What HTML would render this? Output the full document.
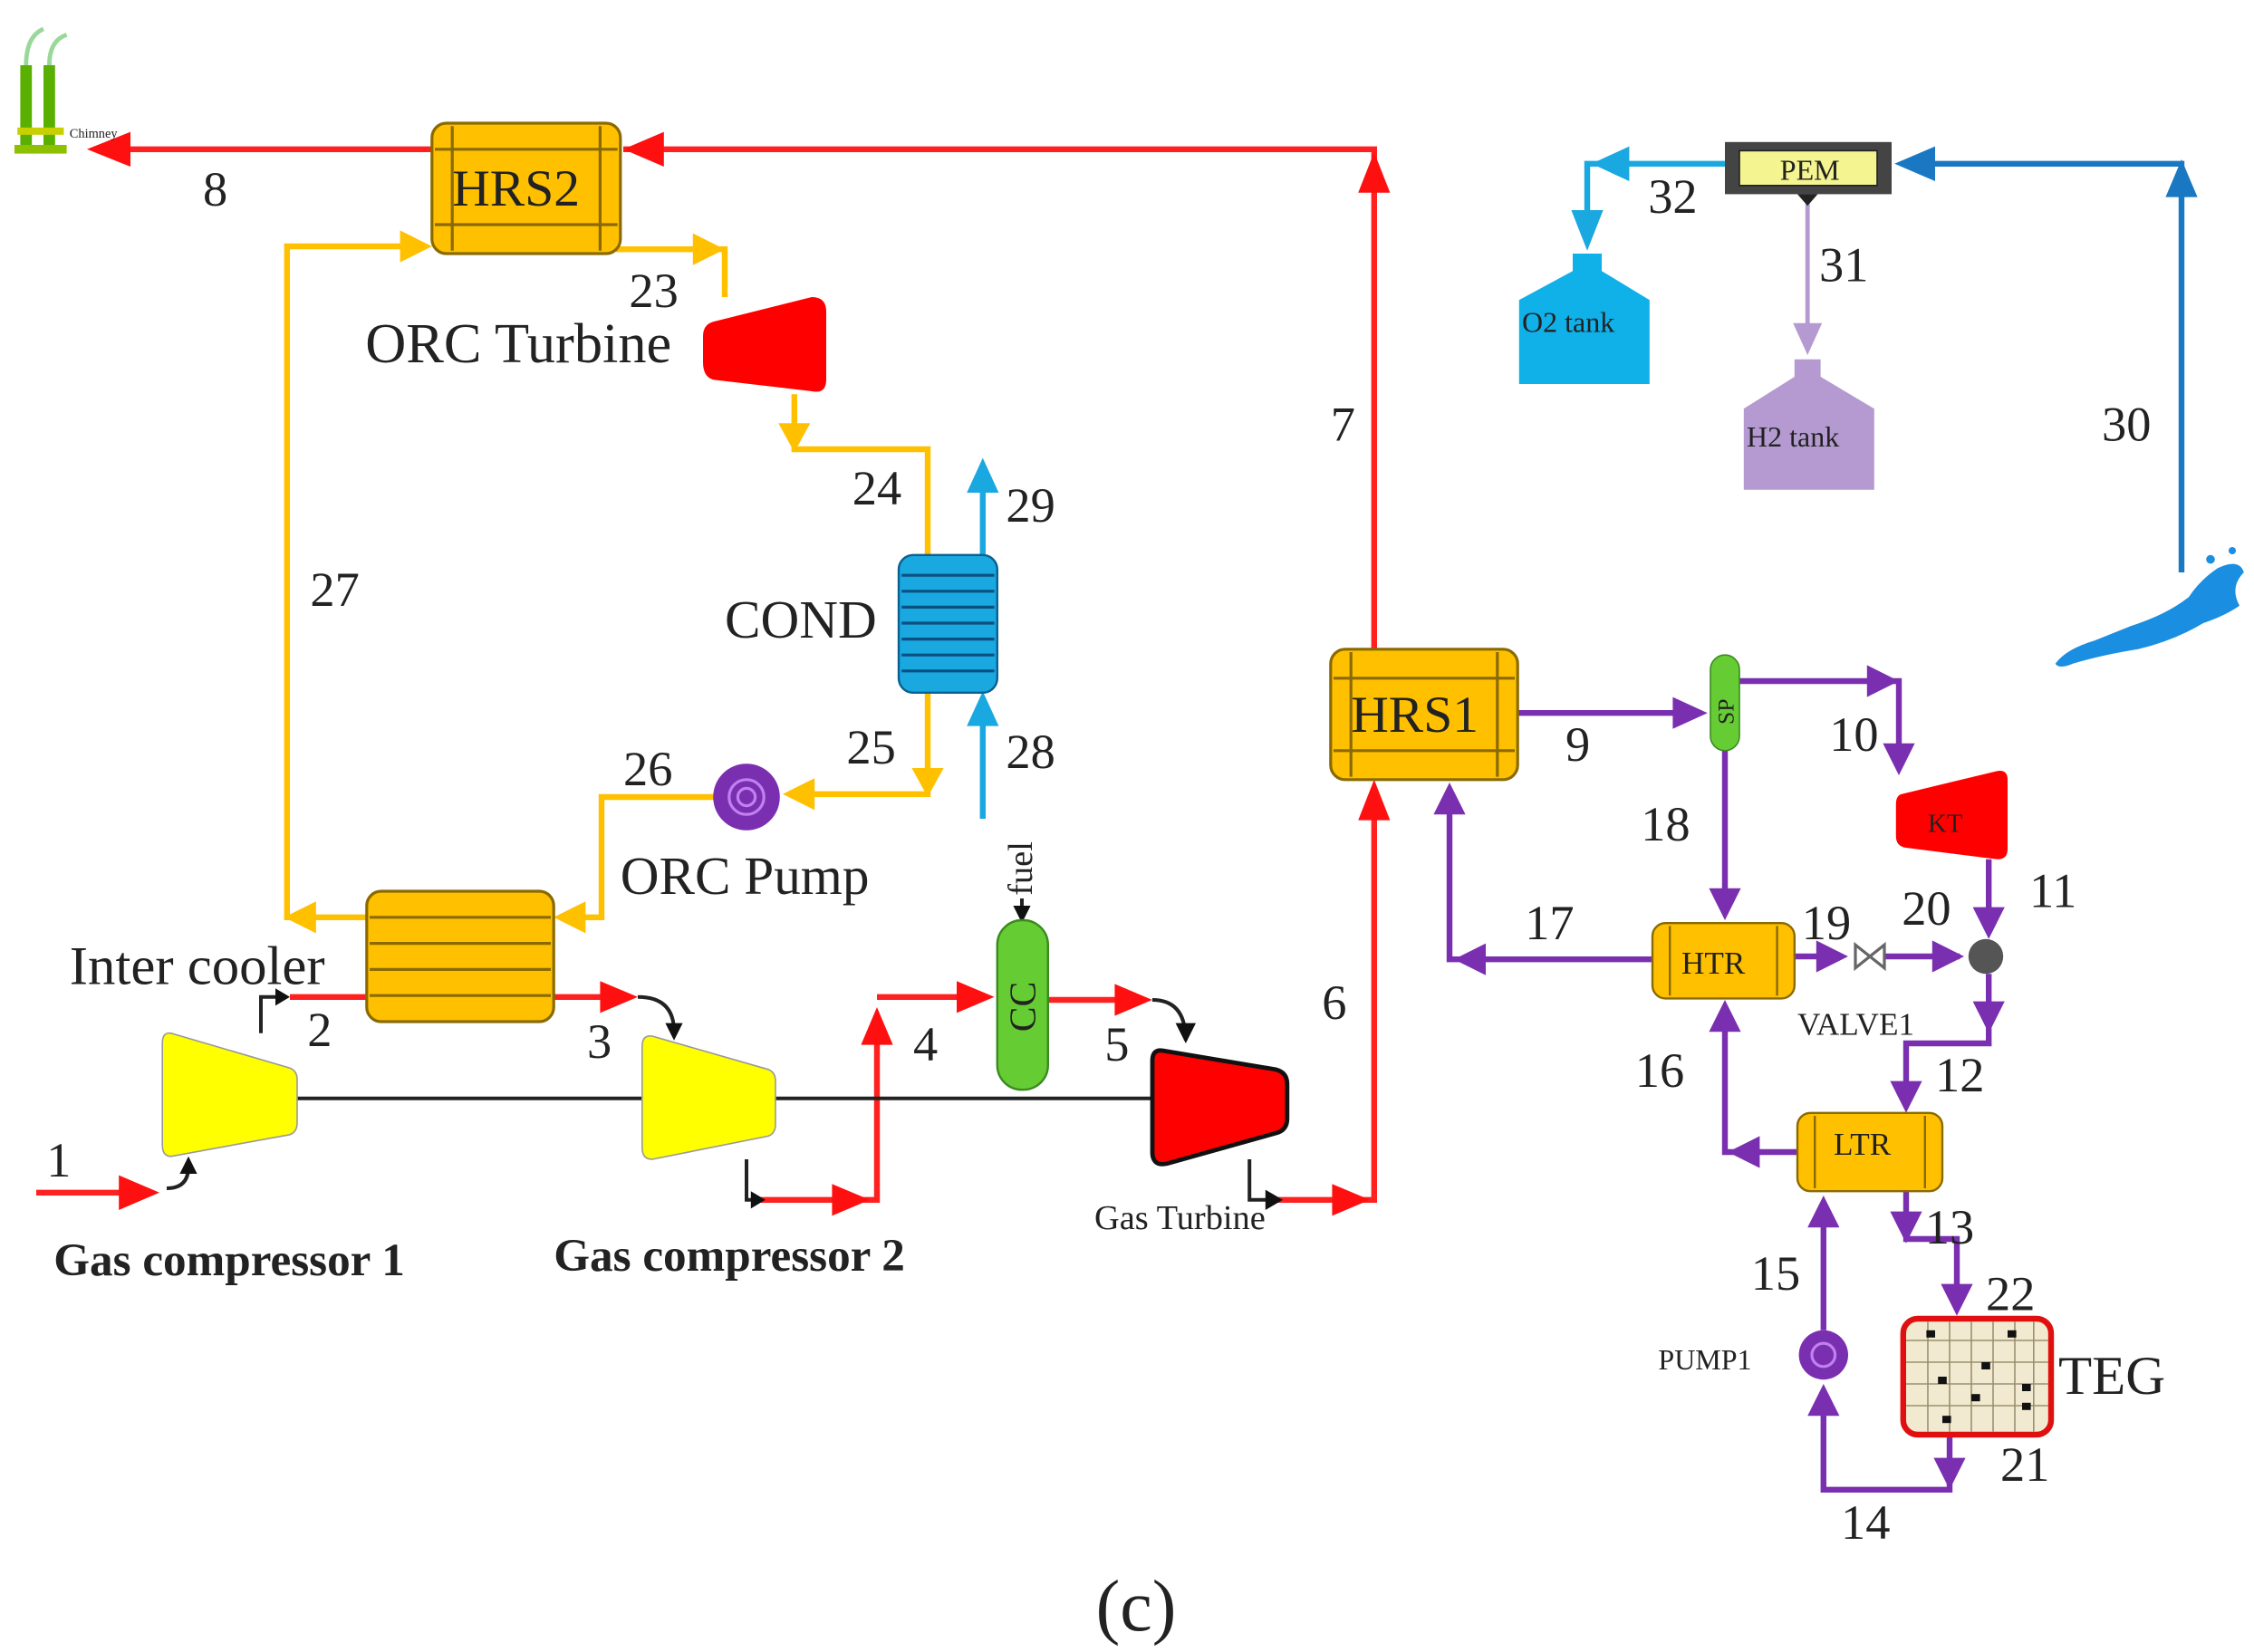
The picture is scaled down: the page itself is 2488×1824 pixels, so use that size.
<!DOCTYPE html>
<html><head><meta charset="utf-8"><style>
html,body{margin:0;padding:0;background:#fff;}
svg{display:block;}
text{font-family:"Liberation Serif",serif;fill:#222;}
</style></head><body>
<svg width="2488" height="1824" viewBox="0 0 1555 1140" preserveAspectRatio="none" xmlns="http://www.w3.org/2000/svg">
<g fill="none" stroke-linejoin="miter">
<g stroke="#ff2020" stroke-width="4">
<path d="M948,450 V103 H430"/>
<path d="M298,103 H75"/>
<path d="M25,823 H95"/>
<path d="M200,688 H425"/>
<path d="M520,828 H605 V700"/>
<path d="M605,688 H675"/>
<path d="M722,690 H782"/>
<path d="M880,828 H948 V555"/>
</g>
<g fill="#ff1010">
<path d="M430,103 l28,-12 v24z"/>
<path d="M60,103 l30,-12 v24z"/>
<path d="M110,823 l-28,-12 v24z"/>
<path d="M440,688 l-26,-11 v22z"/>
<path d="M600,828 l-26,-11 v22z"/>
<path d="M605,695 l-11,26 h22z"/>
<path d="M686,688 l-26,-11 v22z"/>
<path d="M795,690 l-26,-11 v22z"/>
<path d="M945,828 l-26,-11 v22z"/>
<path d="M948,538 l-11,28 h22z"/>
<path d="M948,105 l-11,28 h22z"/>
</g>
<g stroke="#222" stroke-width="2.5">
<path d="M205,758 H800"/>
<path d="M115,820 Q130,820 130,805"/>
<path d="M180,713 V688 H195"/>
<path d="M440,688 Q465,688 465,712"/>
<path d="M515,800 V828 H525"/>
<path d="M795,690 Q818,690 818,718"/>
<path d="M862,800 V828 H878"/>
<path d="M705,620 V640"/>
</g>
<g fill="#111">
<path d="M130,798 l-6,12 h12z"/>
<path d="M200,688 l-10,-6 v12z"/>
<path d="M465,718 l-6,-12 h12z"/>
<path d="M528,828 l-10,-6 v12z"/>
<path d="M818,720 l-7,-14 h14z"/>
<path d="M885,828 l-12,-7 v14z"/>
<path d="M705,637 l-6,-12 h12z"/>
</g>
<g stroke="#ffc000" stroke-width="4">
<path d="M425,172 H500 V205"/>
<path d="M548,272 V310 H640 V383"/>
<path d="M640,478 V548 H555"/>
<path d="M493,550 H415 V633 H392"/>
<path d="M253,633 H198 V170 H288"/>
</g>
<g fill="#ffc000">
<path d="M500,172 l-22,-11 v22z"/>
<path d="M548,312 l-11,-20 h22z"/>
<path d="M640,550 l-11,-20 h22z"/>
<path d="M540,548 l22,-11 v22z"/>
<path d="M382,633 l22,-11 v22z"/>
<path d="M196,633 l22,-11 v22z"/>
<path d="M298,170 l-22,-11 v22z"/>
</g>
<g stroke="#1aa8e0" stroke-width="4">
<path d="M678,383 V335"/>
<path d="M678,565 V495"/>
<path d="M1190,113 H1095 V160"/>
</g>
<g fill="#1aa8e0">
<path d="M678,316 l-11,24 h22z"/>
<path d="M678,477 l-11,24 h22z"/>
<path d="M1095,173 l-11,-28 h22z"/>
<path d="M1098,113 l26,-12 v24z"/>
</g>
<g stroke="#1a78c2" stroke-width="4"><path d="M1505,395 V113 H1325"/></g>
<g fill="#1a78c2">
<path d="M1505,110 l-11,26 h22z"/>
<path d="M1307,113 l28,-12 v24z"/>
</g>
<g stroke="#b49ad0" stroke-width="3"><path d="M1247,140 V230"/></g>
<path d="M1247,245 l-10,-22 h20z" fill="#b49ad0"/>
<g stroke="#7a2fb0" stroke-width="4">
<path d="M1047,492 H1170"/>
<path d="M1200,470 H1310 V520"/>
<path d="M1190,518 V622"/>
<path d="M1140,662 H1000 V555"/>
<path d="M1238,660 H1262"/>
<path d="M1300,660 H1352"/>
<path d="M1372,593 V640"/>
<path d="M1372,672 V720 H1315 V758"/>
<path d="M1240,795 H1190 V705"/>
<path d="M1315,822 V855 H1350 V895"/>
<path d="M1345,990 V1028 H1258 V968"/>
<path d="M1258,918 V840"/>
</g>
<g fill="#7a2fb0">
<path d="M1178,492 l-24,-11 v22z"/>
<path d="M1310,470 l-22,-11 v22z"/>
<path d="M1310,535 l-11,-22 h22z"/>
<path d="M1190,635 l-11,-22 h22z"/>
<path d="M1003,662 l22,-11 v22z"/>
<path d="M1000,540 l-11,22 h22z"/>
<path d="M1275,660 l-22,-11 v22z"/>
<path d="M1355,660 l-22,-11 v22z"/>
<path d="M1372,648 l-11,-22 h22z"/>
<path d="M1372,713 l-11,-22 h22z"/>
<path d="M1315,768 l-11,-22 h22z"/>
<path d="M1192,795 l22,-11 v22z"/>
<path d="M1190,690 l-11,22 h22z"/>
<path d="M1315,858 l-11,-22 h22z"/>
<path d="M1350,908 l-11,-22 h22z"/>
<path d="M1345,1028 l-11,-22 h22z"/>
<path d="M1258,955 l-11,22 h22z"/>
<path d="M1258,825 l-11,22 h22z"/>
</g>
</g>
<path d="M1280,652 L1300,668 V652 L1280,668z" fill="none" stroke="#666" stroke-width="2"/>
<circle cx="1370" cy="660" r="12" fill="#555"/>
<rect x="14" y="45" width="8" height="55" fill="#59b000"/>
<rect x="30" y="45" width="8" height="55" fill="#59b000"/>
<rect x="12" y="88" width="32" height="5" fill="#c8d000"/>
<rect x="10" y="100" width="36" height="6" fill="#8cc000"/>
<path d="M18,45 Q18,25 30,20 M34,45 Q34,28 46,24" stroke="#9ad89a" stroke-width="3" fill="none"/>
<text x="48" y="95" font-size="9">Chimney</text>
<g stroke="#8a6a00" stroke-width="2">
<rect x="298" y="85" width="130" height="90" rx="10" fill="#ffc000"/>
<line x1="312" y1="87" x2="312" y2="173"/><line x1="414" y1="87" x2="414" y2="173"/>
<line x1="300" y1="103" x2="426" y2="103"/><line x1="300" y1="155" x2="426" y2="155"/>
</g>
<text x="312" y="142" font-size="36">HRS2</text>
<g stroke="#8a6a00" stroke-width="2">
<rect x="918" y="448" width="129" height="90" rx="10" fill="#ffc000"/>
<line x1="932" y1="450" x2="932" y2="536"/><line x1="1033" y1="450" x2="1033" y2="536"/>
<line x1="920" y1="468" x2="1045" y2="468"/><line x1="920" y1="518" x2="1045" y2="518"/>
</g>
<text x="932" y="505" font-size="36">HRS1</text>
<path d="M492,222 L560,205 Q570,205 570,215 V262 Q570,272 560,270 L492,262 Q485,260 485,250 V232 Q485,224 492,222z" fill="#ff0000"/>
<rect x="620" y="383" width="68" height="95" rx="10" fill="#1aa8e0" stroke="#0a6090" stroke-width="1.5"/>
<g stroke="#0a5080" stroke-width="2">
<line x1="622" y1="397" x2="686" y2="397"/><line x1="622" y1="408" x2="686" y2="408"/><line x1="622" y1="419" x2="686" y2="419"/><line x1="622" y1="430" x2="686" y2="430"/><line x1="622" y1="441" x2="686" y2="441"/><line x1="622" y1="452" x2="686" y2="452"/><line x1="622" y1="463" x2="686" y2="463"/>
</g>
<circle cx="515" cy="550" r="23" fill="#7a2fb0"/>
<circle cx="515" cy="550" r="12" fill="none" stroke="#c080f0" stroke-width="2"/>
<circle cx="515" cy="550" r="6" fill="none" stroke="#c080f0" stroke-width="2"/>
<rect x="253" y="615" width="129" height="90" rx="10" fill="#ffc000" stroke="#8a6a00" stroke-width="2"/>
<g stroke="#8a6a00" stroke-width="2">
<line x1="255" y1="633" x2="380" y2="633"/><line x1="255" y1="651" x2="380" y2="651"/><line x1="255" y1="669" x2="380" y2="669"/><line x1="255" y1="687" x2="380" y2="687"/>
</g>
<path d="M118,713 L200,737 Q205,739 205,745 V775 Q205,781 200,783 L118,798 Q112,798 112,790 V720 Q112,712 118,713z" fill="#ffff00" stroke="#999" stroke-width="1"/>
<path d="M450,715 L530,738 Q535,740 535,746 V776 Q535,782 530,784 L450,800 Q443,800 443,792 V722 Q443,714 450,715z" fill="#ffff00" stroke="#999" stroke-width="1"/>
<path d="M802,725 L880,738 Q888,740 888,748 V772 Q888,780 880,782 L805,803 Q795,805 795,795 V732 Q795,724 802,725z" fill="#ff0000" stroke="#111" stroke-width="3"/>
<rect x="688" y="635" width="35" height="117" rx="17" fill="#66cc33" stroke="#3a8a20" stroke-width="1.5"/>
<text x="0" y="0" font-size="26" transform="translate(714,712) rotate(-90)">CC</text>
<text x="0" y="0" font-size="24" transform="translate(712,618) rotate(-90)">fuel</text>
<rect x="1180" y="452" width="20" height="66" rx="10" fill="#66cc33" stroke="#3a8a20" stroke-width="1"/>
<text x="0" y="0" font-size="16" transform="translate(1196,500) rotate(-90)">SP</text>
<path d="M1312,548 L1378,532 Q1385,531 1385,538 V586 Q1385,593 1378,593 L1315,585 Q1308,584 1308,577 V555 Q1308,549 1312,548z" fill="#ff0000"/>
<text x="1330" y="574" font-size="18" fill="#800">KT</text>
<rect x="1140" y="637" width="98" height="52" rx="9" fill="#ffc000" stroke="#8a6a00" stroke-width="1.5"/>
<line x1="1152" y1="639" x2="1152" y2="687" stroke="#8a6a00" stroke-width="1.5"/><line x1="1226" y1="639" x2="1226" y2="687" stroke="#8a6a00" stroke-width="1.5"/>
<text x="1160" y="672" font-size="22">HTR</text>
<rect x="1240" y="768" width="100" height="54" rx="9" fill="#ffc000" stroke="#8a6a00" stroke-width="1.5"/>
<line x1="1252" y1="770" x2="1252" y2="820" stroke="#8a6a00" stroke-width="1.5"/><line x1="1328" y1="770" x2="1328" y2="820" stroke="#8a6a00" stroke-width="1.5"/>
<text x="1265" y="797" font-size="22">LTR</text>
<circle cx="1258" cy="935" r="17" fill="#7a2fb0"/>
<circle cx="1258" cy="935" r="8" fill="none" stroke="#c080f0" stroke-width="2"/>
<rect x="1313" y="910" width="102" height="80" rx="10" fill="#f2ead0" stroke="#e01010" stroke-width="4"/>
<g stroke="#9a9070" stroke-width="1">
<line x1="1330" y1="912" x2="1330" y2="988"/><line x1="1345" y1="912" x2="1345" y2="988"/><line x1="1360" y1="912" x2="1360" y2="988"/><line x1="1375" y1="912" x2="1375" y2="988"/><line x1="1390" y1="912" x2="1390" y2="988"/><line x1="1403" y1="912" x2="1403" y2="988"/>
<line x1="1315" y1="925" x2="1413" y2="925"/><line x1="1315" y1="940" x2="1413" y2="940"/><line x1="1315" y1="955" x2="1413" y2="955"/><line x1="1315" y1="970" x2="1413" y2="970"/>
</g>
<g fill="#111"><rect x="1329" y="918" width="6" height="5"/><rect x="1385" y="918" width="6" height="5"/><rect x="1367" y="940" width="6" height="5"/><rect x="1337" y="950" width="6" height="5"/><rect x="1360" y="962" width="6" height="5"/><rect x="1395" y="955" width="6" height="5"/><rect x="1395" y="968" width="6" height="5"/><rect x="1340" y="977" width="6" height="5"/></g>
<rect x="1190" y="98" width="115" height="36" fill="#444"/>
<rect x="1200" y="104" width="95" height="24" fill="#f4f490" stroke="#222" stroke-width="1"/>
<text x="1228" y="124" font-size="20">PEM</text>
<path d="M1240,134 h14 l-7,8z" fill="#222"/>
<path d="M1085,175 h20 v12 l33,20 v58 h-90 v-58 l37,-20z" fill="#10b0e8"/>
<text x="1050" y="229" font-size="20" fill="#033">O2 tank</text>
<path d="M1238,248 h18 v12 l37,22 v56 h-90 v-56 l35,-22z" fill="#b49ad0"/>
<text x="1205" y="308" font-size="20" fill="#222">H2 tank</text>
<path d="M1418,458 Q1425,448 1445,442 L1470,432 Q1495,424 1510,412 Q1518,400 1530,392 Q1545,385 1548,395 Q1538,405 1545,418 Q1535,425 1520,430 Q1500,442 1475,448 Q1450,452 1430,458 Q1420,462 1418,458z" fill="#1a8ee0"/>
<circle cx="1525" cy="386" r="3" fill="#1a8ee0"/><circle cx="1540" cy="380" r="2.5" fill="#1a8ee0"/>
<g font-size="34">
<text x="140" y="142">8</text>
<text x="434" y="212">23</text>
<text x="588" y="348">24</text>
<text x="694" y="360">29</text>
<text x="214" y="418">27</text>
<text x="584" y="527">25</text>
<text x="694" y="530">28</text>
<text x="430" y="542">26</text>
<text x="918" y="304">7</text>
<text x="912" y="703">6</text>
<text x="32" y="812">1</text>
<text x="212" y="722">2</text>
<text x="405" y="730">3</text>
<text x="630" y="732">4</text>
<text x="762" y="732">5</text>
<text x="1080" y="525">9</text>
<text x="1262" y="518">10</text>
<text x="1132" y="580">18</text>
<text x="1052" y="648">17</text>
<text x="1243" y="648">19</text>
<text x="1312" y="638">20</text>
<text x="1400" y="626">11</text>
<text x="1335" y="753">12</text>
<text x="1128" y="750">16</text>
<text x="1328" y="858">13</text>
<text x="1370" y="904">22</text>
<text x="1208" y="890">15</text>
<text x="1380" y="1022">21</text>
<text x="1270" y="1062">14</text>
<text x="1137" y="147">32</text>
<text x="1255" y="194">31</text>
<text x="1450" y="304">30</text>
</g>
<text x="252" y="250" font-size="39">ORC Turbine</text>
<text x="500" y="440" font-size="37">COND</text>
<text x="428" y="617" font-size="37">ORC Pump</text>
<text x="48" y="679" font-size="38">Inter cooler</text>
<text x="1420" y="962" font-size="38">TEG</text>
<text x="37" y="880" font-size="32" font-weight="bold" fill="#333">Gas compressor 1</text>
<text x="382" y="877" font-size="32" font-weight="bold" fill="#333">Gas compressor 2</text>
<text x="755" y="848" font-size="24" fill="#333">Gas Turbine</text>
<text x="1240" y="714" font-size="22" fill="#333">VALVE1</text>
<text x="1144" y="945" font-size="20" fill="#333">PUMP1</text>
<text x="756" y="1125" font-size="50" fill="#111">(c)</text>
</svg>
</body></html>
